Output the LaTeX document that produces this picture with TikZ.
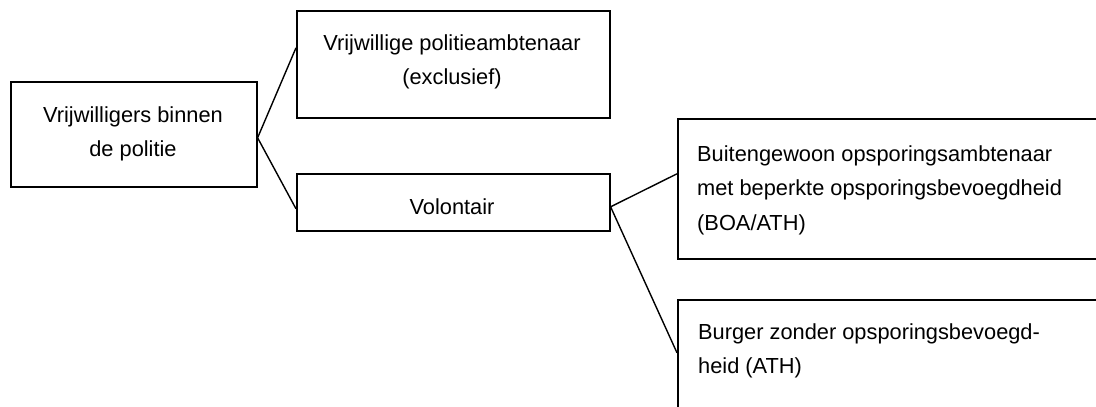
\documentclass[tikz,border=0pt]{standalone}
\usepackage{fontspec}
\setmainfont{Liberation Sans}
\begin{document}
\begin{tikzpicture}[x=1pt,y=-1pt,
  box/.style={draw, line width=1.6pt, inner sep=0pt, anchor=north west},
  txt/.style={inner sep=0pt, font=\fontsize{21.8}{34.5}\selectfont},
  ctxt/.style={txt, anchor=base},
  ltxt/.style={txt, anchor=base west},
  link/.style={line width=1.4pt}]
  \clip (0,0) rectangle (1096,407);
  \fill[white] (0,0) rectangle (1096,407);

  % boxes
  \node[box, minimum width=246pt, minimum height=105pt] (A) at (10,81) {};
  \node[box, minimum width=313pt, minimum height=107pt] (B) at (296,10) {};
  \node[box, minimum width=313pt, minimum height=57pt]  (C) at (296,173) {};
  \node[box, minimum width=440pt, minimum height=140pt] (D) at (677,118) {};
  \node[box, minimum width=440pt, minimum height=122pt] (E) at (677,299) {};

  % texts
  \node[ctxt] (a1) at (133,122) {Vrijwilligers binnen};
  \node[ctxt] (a2) at (133,156) {de politie};
  \node[ctxt] (b1) at (452,50) {Vrijwillige politieambtenaar};
  \node[ctxt] (b2) at (452,84) {(exclusief)};
  \node[ctxt] (c1) at (452,214) {Volontair};
  \node[ltxt] (d1) at (697,161) {Buitengewoon opsporingsambtenaar};
  \node[ltxt] (d2) at (697,195.5) {met beperkte opsporingsbevoegdheid};
  \node[ltxt] (d3) at (697,230) {(BOA/ATH)};
  \node[ltxt] (e1) at (698,339) {Burger zonder opsporingsbevoegd-};
  \node[ltxt] (e2) at (698,373) {heid (ATH)};

  % connectors
  \draw[link] ([yshift=16.5pt]B.west) -- ([yshift=-3.5pt]A.east) -- ([yshift=-6.5pt]C.west);
  \draw[link] ([yshift=15pt]D.west) -- ([yshift=-4.5pt]C.east) -- ([yshift=8pt]E.west);
\end{tikzpicture}
\end{document}
